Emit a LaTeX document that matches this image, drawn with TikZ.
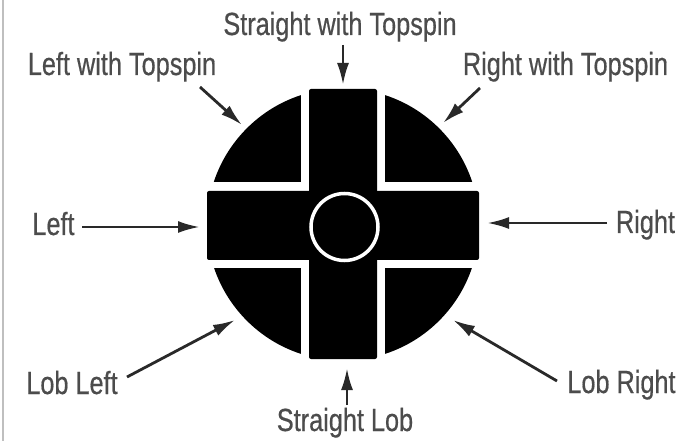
\documentclass[tikz,border=0pt]{standalone}
\usepackage{fontspec}
\setmainfont{Liberation Sans}[FakeStretch=0.79, FakeBold=0.5]
\usetikzlibrary{arrows.meta}
\definecolor{txt}{gray}{0.30}
\definecolor{ink}{gray}{0.16}
\tikzset{
  lbl/.style={anchor=base, inner sep=0pt, text=txt, font=\fontsize{32}{33}\selectfont},
  pointer/.style={draw=ink, line width=2.8, -{Latex[length=22,width=12]}},
}
\begin{document}
\begin{tikzpicture}[x=1pt,y=-1pt]
\useasboundingbox (0,0) rectangle (681,441);
\fill[white] (0,0) rectangle (681,441);
\draw[black!25, line width=1.5] (3,0) -- (3,441);

% disc
\begin{scope}
  \clip (343,224.5) circle (136);
  \fill[black] (200,80) rectangle (301,182);
  \fill[black] (385,80) rectangle (490,182);
  \fill[black] (200,268) rectangle (301,370);
  \fill[black] (385,268) rectangle (490,370);
\end{scope}
\fill[black, rounded corners=2] (309,89) rectangle (377,359);
\fill[black, rounded corners=2] (207,191) rectangle (479,260);
\draw[white, line width=3.5] (344.5,227) circle (33.5);

% labels
\node[lbl] (st) at (340,35) {Straight with Topspin};
\node[lbl] (lt) at (122,75) {Left with Topspin};
\node[lbl] (rt) at (565.5,75) {Right with Topspin};
\node[lbl] (l)  at (53.5,235) {Left};
\node[lbl] (r)  at (645.5,233) {Right};
\node[lbl] (ll) at (72,394) {Lob Left};
\node[lbl] (lr) at (621.5,393) {Lob Right};
\node[lbl] (sl) at (345,431) {Straight Lob};

% arrow ends
\coordinate (st-s) at (343,45);  \coordinate (st-t) at (343,85);
\coordinate (lt-s) at (200,87);  \coordinate (lt-t) at (242,125);
\coordinate (rt-s) at (480,88);  \coordinate (rt-t) at (443,123);
\coordinate (l-s)  at (82,227);  \coordinate (l-t)  at (200,227);
\coordinate (r-s)  at (607,223); \coordinate (r-t)  at (487,223);
\coordinate (ll-s) at (127,377); \coordinate (ll-t) at (235,320);
\coordinate (lr-s) at (557,381); \coordinate (lr-t) at (453,320);
\coordinate (sl-s) at (347,405); \coordinate (sl-t) at (347,368);

\draw[pointer] (st-s) -- (st-t);
\draw[pointer] (lt-s) -- (lt-t);
\draw[pointer] (rt-s) -- (rt-t);
\draw[pointer] (l-s) -- (l-t);
\draw[pointer] (r-s) -- (r-t);
\draw[pointer] (ll-s) -- (ll-t);
\draw[pointer] (lr-s) -- (lr-t);
\draw[pointer] (sl-s) -- (sl-t);
\end{tikzpicture}
\end{document}
